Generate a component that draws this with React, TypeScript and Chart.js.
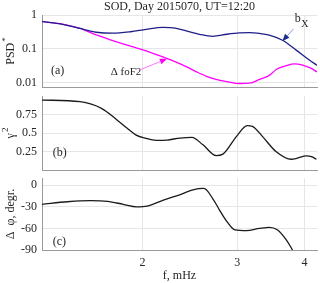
import React, { useEffect, useRef } from 'react';
import { Chart, registerables } from 'chart.js';

Chart.register(...registerables);

const FONT = '"Liberation Serif", "Times New Roman", serif';
const TXT = '#262626';
const GRID = '#e6e6e6';
const AXIS = '#9a9a9a';

const chartTitle = 'SOD, Day 2015070, UT=12:20';
const xTitle = 'f, mHz';
const xTicks = [2, 3, 4];
const xMin = 1.3;
const xMax = 4.22;

// Panel (a): PSD*
const freqBx = [1.30, 1.42, 1.53, 1.64, 1.76, 1.90, 2.03, 2.18, 2.30, 2.41, 2.55, 2.70, 2.87, 3.03, 3.16, 3.30, 3.44, 3.64, 3.86, 4.09, 4.22];
const psdBx = [0.65, 0.53, 0.40, 0.31, 0.29, 0.32, 0.375, 0.43, 0.41, 0.34, 0.27, 0.235, 0.27, 0.295, 0.30, 0.285, 0.255, 0.18, 0.092, 0.046, 0.033];
const freqFoF2 = [1.30, 1.42, 1.53, 1.64, 1.79, 1.90, 2.03, 2.18, 2.25, 2.41, 2.52, 2.63, 2.74, 2.87, 3.03, 3.16, 3.30, 3.44, 3.55, 3.70, 3.83, 3.95, 4.09, 4.22];
const psdFoF2 = [0.64, 0.54, 0.40, 0.26, 0.162, 0.12, 0.088, 0.058, 0.048, 0.030, 0.021, 0.0155, 0.0125, 0.0108, 0.0095, 0.0097, 0.0126, 0.0165, 0.025, 0.032, 0.036, 0.034, 0.028, 0.021];
const psdTicks = [0.01, 0.1, 1];

// Panel (b): coherence
const freqCoh = [1.30, 1.53, 1.68, 1.79, 1.87, 1.95, 2.02, 2.12, 2.22, 2.35, 2.47, 2.59, 2.74, 2.82, 2.99, 3.13, 3.20, 3.34, 3.54, 3.78, 3.88, 4.03, 4.12, 4.21];
const coh = [0.945, 0.923, 0.83, 0.68, 0.568, 0.468, 0.432, 0.40, 0.405, 0.432, 0.44, 0.34, 0.195, 0.214, 0.455, 0.60, 0.59, 0.455, 0.25, 0.145, 0.16, 0.19, 0.18, 0.145];
const cohTicks = [0.25, 0.5, 0.75];

// Panel (c): phase difference
const freqPhase = [1.30, 1.45, 1.60, 1.72, 1.84, 1.95, 2.04, 2.18, 2.35, 2.48, 2.60, 2.70, 2.78, 2.87, 2.97, 3.12, 3.30, 3.44, 3.56, 3.70, 3.80];
const phase = [-26.5, -23, -21.5, -22.5, -26.5, -30, -29, -21, -13, -6.5, -4.5, -18.5, -34.5, -50.5, -62, -63, -60, -58.5, -62, -76, -90];
const phaseTicks = [-90, -60, -30, 0];

type Ann =
  | { kind: 'text'; x: number; y: number; text: string; size: number; sub?: string }
  | { kind: 'arrow'; x0: number; y0: number; x1: number; y1: number; line: string; head: string };

const pts = (xs: number[], ys: number[]) => xs.map((x, i) => ({ x, y: ys[i] }));

function overlay(yTitle: string, ySup: string | null, anns: Ann[], top?: string) {
  return {
    id: 'overlay',
    afterDraw(chart: any) {
      const ctx = chart.ctx as CanvasRenderingContext2D;
      const ca = chart.chartArea;
      const xs = chart.scales.x;
      const ys = chart.scales.y;
      ctx.save();
      ctx.fillStyle = TXT;
      if (top) {
        ctx.font = `12px ${FONT}`;
        ctx.textAlign = 'center';
        ctx.textBaseline = 'middle';
        ctx.fillText(top, (ca.left + ca.right) / 2, 7);
      }
      // y axis title
      ctx.save();
      ctx.translate(11, (ca.top + ca.bottom) / 2);
      ctx.rotate(-Math.PI / 2);
      ctx.font = `12px ${FONT}`;
      ctx.textBaseline = 'middle';
      ctx.textAlign = 'left';
      const w = ctx.measureText(yTitle).width;
      let sw = 0;
      if (ySup) {
        ctx.font = `9px ${FONT}`;
        sw = ctx.measureText(ySup).width + 1;
      }
      ctx.font = `12px ${FONT}`;
      ctx.fillText(yTitle, -(w + sw) / 2, 0);
      if (ySup) {
        ctx.font = `9px ${FONT}`;
        ctx.fillText(ySup, -(w + sw) / 2 + w + 1, -5);
      }
      ctx.restore();
      for (const a of anns) {
        if (a.kind === 'text') {
          const px = xs.getPixelForValue(a.x);
          const py = ys.getPixelForValue(a.y);
          ctx.font = `${a.size}px ${FONT}`;
          ctx.fillStyle = TXT;
          ctx.textBaseline = 'middle';
          if (a.sub) {
            ctx.textAlign = 'left';
            const w1 = ctx.measureText(a.text).width;
            ctx.fillText(a.text, px - w1 / 2, py);
            ctx.font = `${a.size - 2}px ${FONT}`;
            ctx.fillText(a.sub, px + w1 / 2 + 0.5, py + 5);
          } else {
            ctx.textAlign = 'center';
            ctx.fillText(a.text, px, py);
          }
        } else {
          const x0 = xs.getPixelForValue(a.x0);
          const y0 = ys.getPixelForValue(a.y0);
          const x1 = xs.getPixelForValue(a.x1);
          const y1 = ys.getPixelForValue(a.y1);
          const ang = Math.atan2(y1 - y0, x1 - x0);
          const L = 7;
          const W = 3;
          const bx = x1 - L * Math.cos(ang);
          const by = y1 - L * Math.sin(ang);
          ctx.strokeStyle = a.line;
          ctx.lineWidth = 1;
          ctx.beginPath();
          ctx.moveTo(x0, y0);
          ctx.lineTo(bx, by);
          ctx.stroke();
          ctx.fillStyle = a.head;
          ctx.beginPath();
          ctx.moveTo(x1, y1);
          ctx.lineTo(bx + W * Math.sin(ang), by - W * Math.cos(ang));
          ctx.lineTo(bx - W * Math.sin(ang), by + W * Math.cos(ang));
          ctx.closePath();
          ctx.fill();
        }
      }
      ctx.restore();
    },
  };
}

function makeConfig(opts: {
  datasets: any[];
  yType: 'linear' | 'logarithmic';
  yMin: number;
  yMax: number;
  yTicks: number[];
  yFmt: (v: number) => string;
  padTop: number;
  xHeight: number;
  showX: boolean;
  plugin: any;
}) {
  return {
    type: 'line' as const,
    data: { datasets: opts.datasets },
    plugins: [opts.plugin],
    options: {
      responsive: false,
      animation: false as const,
      devicePixelRatio: 1,
      layout: { padding: { left: 0, right: 3, top: opts.padTop, bottom: 0 } },
      plugins: { legend: { display: false }, tooltip: { enabled: false } },
      elements: { point: { radius: 0 } },
      scales: {
        x: {
          type: 'logarithmic' as const,
          min: xMin,
          max: xMax,
          afterBuildTicks: (s: any) => {
            s.ticks = xTicks.map((v) => ({ value: v }));
          },
          afterFit: (s: any) => {
            s.height = opts.xHeight;
            s.paddingLeft = 0;
            s.paddingRight = 0;
            s.paddingTop = 0;
            s.paddingBottom = 0;
          },
          grid: { color: GRID, drawTicks: false },
          border: { color: AXIS, width: 1 },
          ticks: {
            display: opts.showX,
            color: TXT,
            font: { family: FONT, size: 12 },
            padding: 6,
            maxRotation: 0,
            callback: (v: any) => String(v),
          },
          title: {
            display: opts.showX,
            text: xTitle,
            color: TXT,
            font: { family: FONT, size: 12 },
            padding: { top: 1, bottom: 0 },
          },
        },
        y: {
          type: opts.yType,
          min: opts.yMin,
          max: opts.yMax,
          afterBuildTicks: (s: any) => {
            s.ticks = opts.yTicks.map((v) => ({ value: v }));
          },
          afterFit: (s: any) => {
            s.width = 42;
            s.paddingTop = 0;
            s.paddingBottom = 0;
            s.paddingLeft = 0;
            s.paddingRight = 0;
          },
          grid: { color: GRID, drawTicks: false },
          border: { color: AXIS, width: 1 },
          ticks: {
            color: TXT,
            font: { family: FONT, size: 12 },
            padding: 5,
            callback: (v: any) => opts.yFmt(Number(v)),
          },
        },
      },
    },
  };
}

const lineDs = (data: any[], color: string) => ({
  data,
  borderColor: color,
  backgroundColor: color,
  borderWidth: 1.3,
  cubicInterpolationMode: 'monotone' as const,
  fill: false,
});

export default function App() {
  const ra = useRef<HTMLCanvasElement>(null);
  const rb = useRef<HTMLCanvasElement>(null);
  const rc = useRef<HTMLCanvasElement>(null);

  useEffect(() => {
    const annA: Ann[] = [
      { kind: 'text', x: 1.39, y: 0.023, text: '(a)', size: 12 },
      { kind: 'text', x: 1.863, y: 0.02, text: 'Δ foF2', size: 11 },
      { kind: 'arrow', x0: 1.978, y0: 0.0241, x1: 2.219, y1: 0.0508, line: '#ff77ff', head: '#ff00ff' },
      { kind: 'text', x: 3.888, y: 0.76, text: 'b', size: 12, sub: 'X' },
      { kind: 'arrow', x0: 3.816, y0: 0.387, x1: 3.64, y1: 0.172, line: '#7f9be0', head: '#1f2a8a' },
    ];
    const annB: Ann[] = [{ kind: 'text', x: 1.403, y: 0.23, text: '(b)', size: 12 }];
    const annC: Ann[] = [{ kind: 'text', x: 1.4, y: -78, text: '(c)', size: 12 }];

    const a = new Chart(
      ra.current!,
      makeConfig({
        datasets: [lineDs(pts(freqBx, psdBx), '#1f1f8a'), lineDs(pts(freqFoF2, psdFoF2), '#ff00ff')],
        yType: 'logarithmic',
        yMin: 0.0075,
        yMax: 1,
        yTicks: psdTicks,
        yFmt: (v) => String(v),
        padTop: 15,
        xHeight: 5,
        showX: false,
        plugin: overlay('PSD', '*', annA, chartTitle),
      }) as any
    );
    const b = new Chart(
      rb.current!,
      makeConfig({
        datasets: [lineDs(pts(freqCoh, coh), '#1a1a1a')],
        yType: 'linear',
        yMin: 0,
        yMax: 1,
        yTicks: cohTicks,
        yFmt: (v) => String(v),
        padTop: 4,
        xHeight: 4,
        showX: false,
        plugin: overlay('γ', '2', annB),
      }) as any
    );
    const c = new Chart(
      rc.current!,
      makeConfig({
        datasets: [lineDs(pts(freqPhase, phase), '#1a1a1a')],
        yType: 'linear',
        yMin: -90,
        yMax: 10,
        yTicks: phaseTicks,
        yFmt: (v) => String(v),
        padTop: 4,
        xHeight: 33,
        showX: true,
        plugin: overlay('Δ  φ, degr.', null, annC),
      }) as any
    );
    return () => {
      a.destroy();
      b.destroy();
      c.destroy();
    };
  }, []);

  const cs = (top: number, h: number): React.CSSProperties => ({
    position: 'absolute',
    left: 0,
    top,
    width: 320,
    height: h,
    display: 'block',
  });

  return (
    <div style={{ position: 'absolute', left: 0, top: 0, width: 320, height: 283, background: '#fff', overflow: 'hidden' }}>
      <canvas ref={ra} width={320} height={92} style={cs(0, 92)} />
      <canvas ref={rb} width={320} height={82} style={cs(92, 82)} />
      <canvas ref={rc} width={320} height={109} style={cs(174, 109)} />
    </div>
  );
}
